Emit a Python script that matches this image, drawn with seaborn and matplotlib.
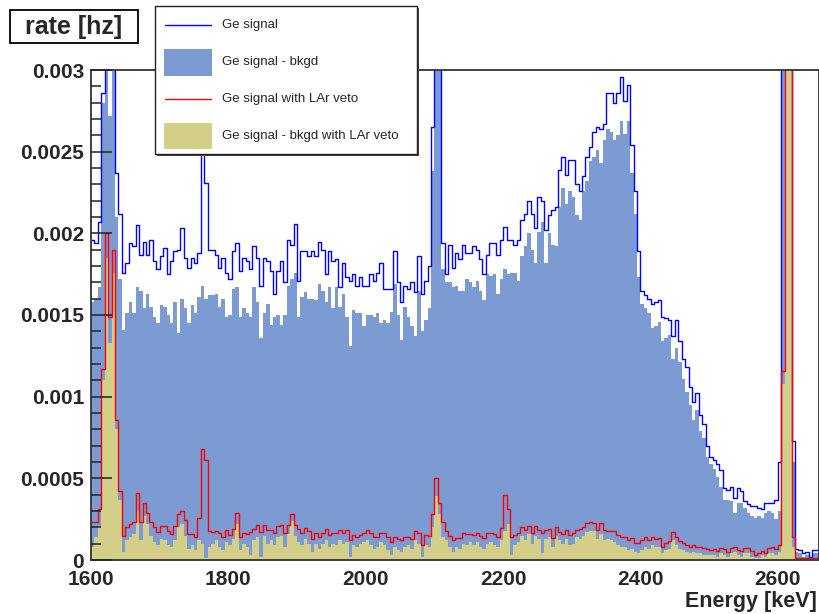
import numpy as np
import pandas as pd
import matplotlib
matplotlib.use("Agg")
import matplotlib.pyplot as plt
import seaborn as sns
from matplotlib.patches import Rectangle
from matplotlib.lines import Line2D

# 5 keV bins from 1600 to 2660 keV, rates in units of 1e-5 Hz
BIN_W = 5
E_MIN, E_MAX = 1600, 2660
bin_centers = np.arange(E_MIN, E_MAX, BIN_W) + BIN_W / 2
SCALE = 1e-5

ge_signal = [
    196, 194, 207, 286, 420, 380, 400, 237, 212, 176,
    182, 194, 192, 205, 187, 195, 187, 196, 183, 178,
    186, 191, 175, 183, 189, 190, 203, 185, 179, 185,
    182, 188, 265, 231, 190,
    190, 187, 179, 185, 176, 172, 189, 194, 177, 185,
    183, 178, 192, 185, 168, 185, 183, 177, 163, 177,
    183, 170, 196, 193, 206, 171, 189, 189, 186, 189,
    186, 195, 190,
    175, 189, 183, 184, 167, 182, 173, 171, 175, 168,
    173, 168, 168, 175, 171, 176, 182, 166, 166, 166,
    189, 170, 158, 168, 166, 170, 164, 186, 163, 171,
    180, 265, 420, 400,
    194, 175, 193, 179, 188, 184, 193, 188, 188, 192,
    190, 184, 175, 187, 194, 194, 187, 196, 204, 196,
    196, 193, 196, 208, 212, 220, 212, 203, 222, 220,
    202, 211, 214, 216, 239, 247, 236, 245, 245, 230,
    226, 235, 247, 253, 262, 265, 264, 267, 286, 286,
    280, 286, 296, 281, 291, 254, 226, 189, 165, 162,
    160,
    157, 158, 159, 149, 148, 147, 137, 147, 134, 123,
    118, 106, 97, 102, 89, 83, 70, 63, 61, 59,
    55, 44, 43, 45, 38, 44, 42, 36, 34, 33,
    33, 32, 31, 35, 35, 35, 37, 60, 420, 600,
    350, 73, 7, 6, 4, 5, 2, 6, 6,
]

ge_minus_bkgd = [
    158, 160, 167, 280, 400, 272, 400, 210, 172, 141,
    151, 158, 151, 167, 165, 154, 163, 155, 149, 145,
    156, 155, 150, 145, 158, 139, 160, 154, 145, 156,
    151, 161, 168, 160, 162,
    162, 163, 155, 160, 149, 150, 166, 167, 149, 154,
    151, 149, 167, 158, 136, 151, 157, 144, 149, 150,
    144, 150, 168, 172, 176, 149, 161, 164, 160, 160,
    159, 169, 165,
    158, 167, 154, 167, 155, 163, 149, 131, 153, 151,
    151, 143, 150, 150, 149, 151, 145, 147, 145, 152,
    169, 150, 135, 155, 149, 143, 137, 165, 140, 147,
    154, 238, 400, 400,
    178, 170, 170, 167, 168, 165, 165, 172, 170, 167,
    171, 165, 159, 175, 174, 175, 163, 172, 178, 175,
    176, 176, 171, 186, 192, 200, 190, 182, 201, 207,
    182, 200, 193, 192, 216, 228, 218, 226, 222, 211,
    208, 226, 232, 244, 247, 251, 243, 257, 264, 262,
    257, 260, 269, 261, 269, 237, 212, 173, 157, 154,
    151,
    142, 143, 146, 134, 136, 138, 123, 130, 121, 111,
    103, 95, 86, 92, 79, 75, 63, 59, 56, 51,
    45, 37, 37, 36, 29, 35, 35, 32, 29, 27,
    26, 27, 26, 29, 30, 29, 25, 30, 380, 580,
    330, 60, 5, 4, 2, 3, 1, 4, 4,
]

ge_lar_veto = [
    23, 23, 31, 117, 200, 149, 190, 86, 42, 15,
    20, 22, 23.5, 41, 23, 35, 29, 23.5, 20, 17,
    21, 21, 18, 16, 21, 28, 30, 24.5, 16, 16,
    14, 25.5, 68, 61, 18,
    17, 18, 16.3, 13.9, 18.4, 15.3, 18.8, 28.6, 13.9, 16.7,
    15.9, 17.3, 18.8, 21.4, 17.3, 21.4, 18.4, 18.4, 16.3, 20.8,
    21.4, 16.3, 21.4, 28.2, 21.4, 18.8, 16.3, 19.4, 18, 12.7,
    16.7, 13.9, 16.3,
    18.8, 15.3, 16.7, 16.7, 18.4, 16.3, 18.4, 12.2, 15.3, 14.3,
    15.3, 16.7, 18.4, 16.3, 14.3, 13.9, 16.7, 16.3, 13.9, 11.2,
    14.3, 12.7, 12.2, 13.9, 14.3, 12.9, 17.8, 16.3, 9.2, 15.3,
    14.7, 28, 50, 35, 23, 18, 15,
    12.2, 13.3, 13.3, 16.3, 15.9, 15.9, 15.3, 16.3, 14.7, 13.3,
    16.7, 16.3, 15.9, 14.3, 19.4, 40, 31, 13.9, 15.3, 16.7,
    20.4, 18.4, 20.8, 16.3, 20.8, 18.4, 16.3, 18.4, 18.8, 13.3,
    20.4, 17.3, 15.9, 18.4, 15.3, 16.3, 18.4, 18.8, 20.4, 22.9,
    23.5, 22.9, 18.4, 22.4, 18.4, 18, 18, 18, 15.3, 13.9,
    13.9, 12.2, 13.3, 10.6, 10.2, 12.2, 13.9,
    12.2, 13.9, 12.7, 13.3, 8.2, 10.6, 11.8, 17.3, 13.9, 11.8,
    10.2, 9.2, 8.2, 9.2, 8.2, 7.8, 7.1, 6.5, 6.1, 6.5,
    5.7, 7.1, 6.5, 5.1, 7.1, 8.2, 6.1, 5.7, 7.1, 7.6,
    5.7, 3.1, 4.1, 5.7, 4.5, 7.1, 7.8, 6.5, 9,
    116, 420, 330, 14, 1, 1, 1, 1, 1, 1, 1,
]

ge_minus_bkgd_lar_veto = [
    8, 14, 20, 110, 185, 133, 176, 80, 37, 5,
    12, 14, 16, 30, 12, 27, 22, 15, 11, 9,
    13, 12, 9, 8, 12, 20, 22, 15, 7, 9,
    6, 12, 10, 1, 8,
    10, 12, 8, 6, 11, 9, 13, 22, 6, 10,
    8, 3, 12, 14, 2, 15, 10, 12, 9, 14,
    15, 8, 16, 24, 15, 11, 9, 13, 10, 5,
    10, 7, 10,
    12, 8, 10, 9, 12, 10, 11, 2, 9, 8,
    10, 11, 12, 9, 7, 8, 11, 9, 6, 3,
    8, 6, 5, 8, 9, 7, 12, 10, 2, 9,
    8, 20, 39, 28, 14, 12, 8,
    5, 8, 7, 10, 9, 11, 9, 11, 8, 7,
    10, 11, 9, 8, 12, 18, 22, 3, 9, 11,
    15, 12, 16, 10, 15, 13, 4, 13, 14, 8,
    15, 12, 10, 13, 9, 10, 14, 13, 15, 17,
    18, 18, 13, 16, 12, 13, 12, 11, 9, 8,
    8, 6, 7, 5, 4, 6, 8,
    7, 9, 8, 8, 4, 6, 7, 12, 9, 7,
    6, 5, 4, 5, 4, 4, 3, 3, 3, 3,
    2, 4, 3, 2, 4, 5, 3, 2, 4, 4,
    2, 1, 1, 3, 2, 4, 4, 3, 5,
    108, 400, 320, 8, 0.5, 0.5, 0.5, 0.5, 0.5, 0.5, 0.5,
]

legend_labels = ["Ge signal", "Ge signal - bkgd",
                 "Ge signal with LAr veto", "Ge signal - bkgd with LAr veto"]
x_ticks = [1600, 1800, 2000, 2200, 2400, 2600]
y_ticks = [0, 0.0005, 0.001, 0.0015, 0.002, 0.0025, 0.003]
y_tick_labels = ["0", "0.0005", "0.001", "0.0015", "0.002", "0.0025", "0.003"]

series = {"ge_signal": ge_signal, "ge_minus_bkgd": ge_minus_bkgd,
          "ge_lar_veto": ge_lar_veto, "ge_minus_bkgd_lar_veto": ge_minus_bkgd_lar_veto}
for name, vals in series.items():
    if len(vals) != len(bin_centers):
        raise ValueError(f"{name}: {len(vals)} values, expected {len(bin_centers)}")

df = pd.DataFrame({"energy": bin_centers})
for name, vals in series.items():
    df[name] = np.array(vals, dtype=float) * SCALE

BLUE_FILL = "#7b9bd2"
KHAKI = "#d3cf88"

sns.set_style("ticks")
plt.rcParams["font.family"] = ["Liberation Sans", "DejaVu Sans"]

W, H = 820, 614
fig = plt.figure(figsize=(W / 100, H / 100), dpi=100)
ax = fig.add_axes([91 / W, 54 / H, 728 / W, 490 / H])


def hist(col, **kw):
    sns.histplot(data=df, x="energy", weights=col, binwidth=BIN_W,
                 binrange=(E_MIN, E_MAX), element="step", ax=ax, **kw)


hist("ge_minus_bkgd", fill=True, color=BLUE_FILL, alpha=1, linewidth=0)
hist("ge_signal", fill=False, color="#0000ff", linewidth=1.0)
hist("ge_minus_bkgd_lar_veto", fill=True, color=KHAKI, alpha=1, linewidth=0)
hist("ge_lar_veto", fill=False, color="#ff0000", linewidth=1.0)

ax.set_xlim(E_MIN, E_MAX)
ax.set_ylim(0, 0.003)
ax.set_xlabel("")
ax.set_ylabel("")
ax.set_xticks(x_ticks)
ax.set_xticklabels([str(t) for t in x_ticks], fontsize=15, fontweight="bold")
ax.set_yticks(y_ticks)
ax.set_yticklabels(y_tick_labels, fontsize=15, fontweight="bold")
ax.set_yticks(np.arange(0, 0.00301, 0.0001), minor=True)
ax.tick_params(axis="y", which="major", direction="in", length=15, width=1.1,
               pad=5, color="#222222")
ax.tick_params(axis="y", which="minor", direction="in", length=7.5, width=1.1,
               color="#222222")
ax.tick_params(axis="x", which="both", length=0, pad=7)
for sp in ax.spines.values():
    sp.set_visible(True)
    sp.set_linewidth(1.3)
    sp.set_color("#333333")
ax.set_axisbelow(False)

fig.text(817 / W, 1 - 601 / H, "Energy [keV]", ha="right", va="center",
         fontsize=15.5, fontweight="bold")

# title box
fig.add_artist(Rectangle((10 / W, 1 - 43 / H), 128 / W, 33 / H, transform=fig.transFigure,
                         facecolor="white", edgecolor="black", linewidth=1.3))
fig.text(74 / W, 1 - 27 / H, "rate [hz]", ha="center", va="center",
         fontsize=18, fontweight="bold")

# legend box with shadow
fig.add_artist(Rectangle((157 / W, 1 - 156 / H), 262 / W, 148 / H, transform=fig.transFigure,
                         facecolor="#444444", edgecolor="none", zorder=5))
fig.add_artist(Rectangle((155 / W, 1 - 154 / H), 262 / W, 148 / H, transform=fig.transFigure,
                         facecolor="white", edgecolor="#222222", linewidth=1.0, zorder=6))
rows_y = [25, 62, 99, 136]
fig.add_artist(Line2D([165 / W, 211 / W], [1 - rows_y[0] / H] * 2, transform=fig.transFigure,
                      color="#0000ff", linewidth=1.0, zorder=7))
fig.add_artist(Rectangle((164 / W, 1 - 76 / H), 48 / W, 27 / H, transform=fig.transFigure,
                         facecolor=BLUE_FILL, edgecolor="none", zorder=7))
fig.add_artist(Line2D([165 / W, 211 / W], [1 - rows_y[2] / H] * 2, transform=fig.transFigure,
                      color="#ff0000", linewidth=1.0, zorder=7))
fig.add_artist(Rectangle((164 / W, 1 - 149 / H), 48 / W, 26 / H, transform=fig.transFigure,
                         facecolor=KHAKI, edgecolor="none", zorder=7))
for label, y in zip(legend_labels, rows_y):
    fig.text(222 / W, 1 - y / H, label, ha="left", va="center", fontsize=9.5, zorder=8)

fig.savefig("out.png", dpi=100)
